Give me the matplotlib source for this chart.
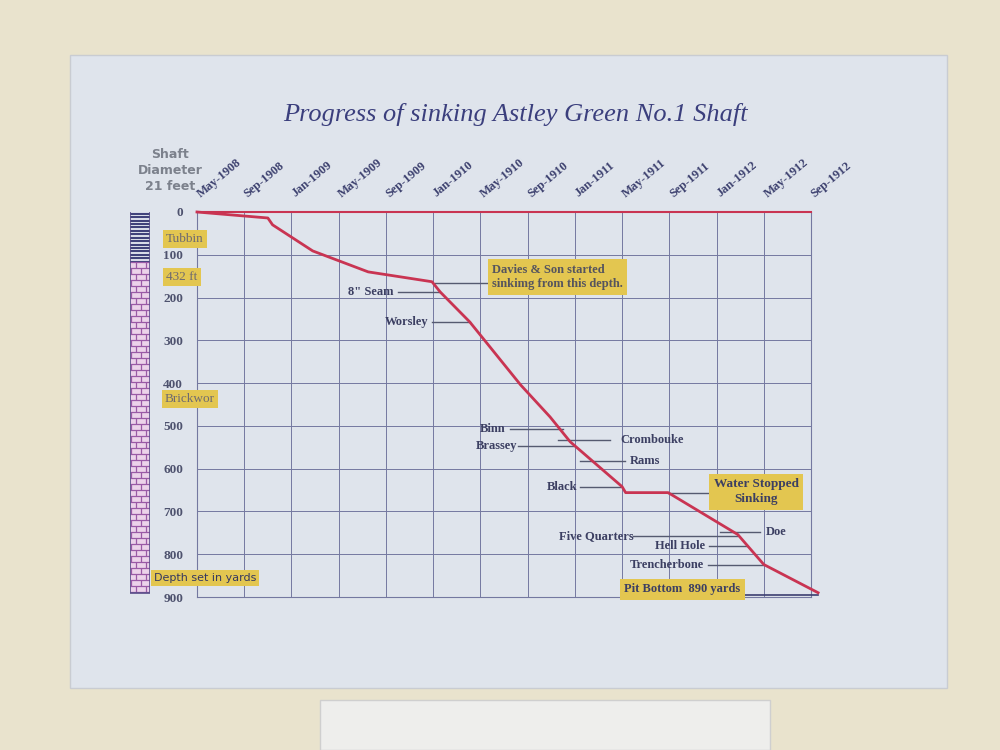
import numpy as np
import matplotlib.pyplot as plt
from matplotlib.patches import Rectangle

# progress of sinking, months counted from May-1908, depth in yards
months = [0, 6.0, 6.4, 9.8, 14.5, 19.9, 20.6, 23.1, 27.4, 29.9, 31.6, 36.0, 36.3, 39.9, 45.8, 48.0, 52.6]
depth = [0, 14, 30, 91, 140, 163, 187, 257, 404, 479, 537, 642, 656, 656, 754, 824, 890]

tick_labels = ['May-1908', 'Sep-1908', 'Jan-1909', 'May-1909', 'Sep-1909', 'Jan-1910', 'May-1910',
               'Sep-1910', 'Jan-1911', 'May-1911', 'Sep-1911', 'Jan-1912', 'May-1912', 'Sep-1912']
depth_ticks = [0, 100, 200, 300, 400, 500, 600, 700, 800, 900]

# seams passed through, with their depth
seam_names = ['8" Seam', 'Worsley', 'Binn', 'Brassey', 'Crombouke', 'Rams', 'Black',
              'Doe', 'Five Quarters', 'Hell Hole', 'Trencherbone']
seam_depths = [187, 257, 507, 547, 533, 582, 643, 748, 757, 780, 825]
davies_depth = 166
water_depth = 656
pit_bottom = 890
tubbing_depth = 118

navy = '#3c3f62'
red = '#c93452'
gridc = '#7478a0'
yellow = '#e3c650'
serif = 'Liberation Serif'

fig = plt.figure(figsize=(10, 7.5), dpi=100, facecolor='#e9e3cd')
# sheet of paper on the wall
fig.patches.append(Rectangle((0.07, 1 - 688 / 750), 0.877, (688 - 55) / 750, transform=fig.transFigure,
                             facecolor='#dfe4ec', edgecolor='#c9ccd2', zorder=-10))
fig.patches.append(Rectangle((0.32, 0), 0.45, 50 / 750, transform=fig.transFigure,
                             facecolor='#eeeeec', edgecolor='#cfcfcf', zorder=-10))

fig.text(0.515, 1 - 115 / 750, 'Progress of sinking Astley Green No.1 Shaft', ha='center', va='center',
         fontsize=19, style='italic', family=serif, color='#3b3f7d')

ax = fig.add_axes([0.197, 1 - 597 / 750, 0.614, (597 - 212) / 750])
ax.set_facecolor('none')
ax.set_xlim(0, 52)
ax.set_ylim(900, 0)
xticks = np.arange(0, 53, 4)
ax.set_xticks(xticks)
ax.set_xticklabels([])
ax.xaxis.tick_top()
# date labels along the top, slanted
for m, lab in zip(xticks, tick_labels):
    ax.annotate(lab, (m, 1), xycoords=('data', 'axes fraction'), xytext=(4, 9), textcoords='offset points',
                rotation=40, rotation_mode='anchor', ha='left', va='bottom',
                family=serif, fontweight='bold', fontsize=9, color='#3e4270')
ax.set_yticks(depth_ticks)
ax.set_yticklabels([str(d) for d in depth_ticks], family=serif, fontweight='bold', fontsize=9.5, color='#4e526e')
ax.tick_params(axis='x', length=0)
ax.tick_params(axis='y', length=0, pad=10)
ax.grid(color=gridc, lw=0.7)
for s in ['left', 'right', 'bottom']:
    ax.spines[s].set_color(gridc)
    ax.spines[s].set_linewidth(0.8)
ax.spines['top'].set_color(red)
ax.spines['top'].set_linewidth(1.5)

ax.plot(months, depth, color=red, lw=2, clip_on=False, zorder=5)

def px_month(px):
    return (px - 197) / 11.8

# leader lines: (x start px, x end px, text px, alignment)
leaders = [(398, 440, 393, 'right'), (432, 470, 428, 'right'), (510, 563, 505, 'right'),
           (518, 575, 517, 'right'), (558, 610, 620, 'left'), (580, 625, 630, 'left'),
           (580, 620, 577, 'right'), (720, 760, 765, 'left'), (633, 737, 633, 'right'),
           (709, 747, 705, 'right'), (708, 763, 704, 'right')]
for name, d, (x0, x1, xt, ha) in zip(seam_names, seam_depths, leaders):
    ax.plot([px_month(x0), px_month(x1)], [d, d], color='#555a70', lw=1, clip_on=False, zorder=4)
    ax.text(px_month(xt), d, name, ha=ha, va='center', family=serif, fontweight='bold',
            fontsize=9, color=navy, zorder=6)

box = dict(boxstyle='square,pad=0.35', facecolor=yellow, edgecolor='none')
ax.plot([px_month(435), px_month(488)], [davies_depth, davies_depth], color='#555a70', lw=1, zorder=4)
ax.text(px_month(492), 152, 'Davies & Son started\nsinkimg from this depth.', ha='left', va='center',
        family=serif, fontweight='bold', fontsize=9, color='#55545e', bbox=box, linespacing=1.3, zorder=6)
ax.plot([px_month(668), px_month(709)], [water_depth, water_depth], color='#555a70', lw=1, zorder=4)
ax.text(px_month(756), 654, 'Water Stopped\nSinking', ha='center', va='center', family=serif,
        fontweight='bold', fontsize=9.5, color=navy, bbox=box, linespacing=1.3, zorder=6)
ax.plot([px_month(745), 52.6], [pit_bottom + 5, pit_bottom + 5], color='#3c3f70', lw=1.2, clip_on=False, zorder=4)
ax.text(px_month(682), 882, 'Pit Bottom  ' + str(pit_bottom) + ' yards', ha='center', va='center',
        family=serif, fontweight='bold', fontsize=9, color=navy, bbox=box, zorder=6)

# shaft drawing on the left
sx = fig.add_axes([0.13, 1 - 597 / 750, 0.02, (597 - 212) / 750])
sx.set_xlim(0, 1)
sx.set_ylim(900, 0)
sx.axis('off')
sx.add_patch(Rectangle((0, 0), 1, tubbing_depth, facecolor='#d8dbe8', edgecolor='none'))
sx.add_patch(Rectangle((0, tubbing_depth), 1, pit_bottom - tubbing_depth, facecolor='#ecd3ea', edgecolor='none'))
sx.hlines(np.arange(4, tubbing_depth, 8), 0, 1, color='#3d3f7a', lw=1.4)
rows = np.arange(tubbing_depth, pit_bottom, 14)
sx.hlines(rows, 0, 1, color='#9a5aa6', lw=0.9)
for i, r in enumerate(rows[:-1]):
    xs = [0.3, 0.8] if i % 2 == 0 else [0.05, 0.55]
    sx.vlines(xs, r, r + 14, color='#9a5aa6', lw=0.9)
sx.vlines([0, 1], 0, pit_bottom, color='#5a4f8a', lw=1.2)
sx.hlines(pit_bottom, 0, 1, color='#5a4f8a', lw=1.2)

fig.text(0.17, 1 - 171 / 750, 'Shaft\nDiameter\n21 feet', ha='center', va='center', fontsize=9,
         fontweight='bold', color='#7c818c', family='DejaVu Sans', linespacing=1.3)

lbl = dict(boxstyle='square,pad=0.25', facecolor=yellow, edgecolor='none')
fig.text(0.166, 1 - 239 / 750, 'Tubbin', ha='left', va='center', family=serif, fontsize=9.5,
         color='#6e6a70', bbox=lbl)
fig.text(0.166, 1 - 277 / 750, '432 ft', ha='left', va='center', family=serif, fontsize=9.5,
         color='#6e6a70', bbox=lbl)
fig.text(0.165, 1 - 399 / 750, 'Brickwor', ha='left', va='center', family=serif, fontsize=9.5,
         color='#6e6a70', bbox=lbl)
fig.text(0.154, 1 - 578 / 750, 'Depth set in yards', ha='left', va='center', family='DejaVu Sans',
         fontsize=8, color='#353860', bbox=lbl)

fig.savefig('out.png', dpi=100, facecolor=fig.get_facecolor())
